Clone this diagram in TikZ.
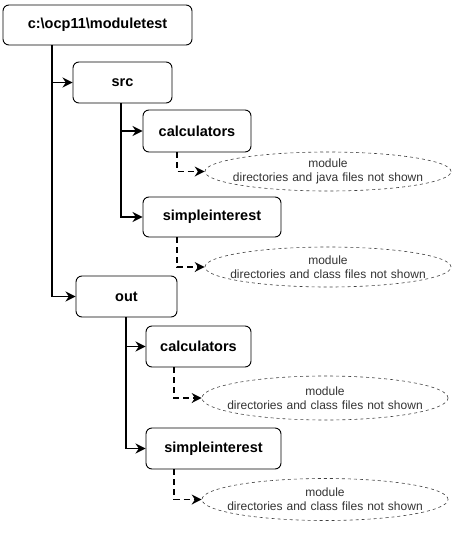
\documentclass[tikz,border=0pt]{standalone}
\usepackage{fontspec}
\setmainfont{Liberation Sans}
\usetikzlibrary{arrows.meta,shapes.geometric}
\begin{document}
\begin{tikzpicture}[x=1pt,y=-1pt,
  dirbox/.style={draw=black,line width=0.9pt,rounded corners=6pt,fill=white,inner sep=0pt,
    font=\fontsize{14.5}{16}\selectfont\bfseries},
  note/.style={ellipse,draw=black!75,dashed,line width=0.6pt,inner xsep=-23pt,inner ysep=0pt,
    text width=220pt,minimum width=246pt,
    font=\fontsize{12}{14}\selectfont,text=black!80,align=center},
  tree/.style={line width=1.9pt,-{Stealth[length=10pt,width=10pt]}},
  dashlink/.style={line width=1.6pt,dash pattern=on 6pt off 4pt,-{Stealth[length=10pt,width=10pt]}}]
\useasboundingbox (0,0) rectangle (468,560);
\node[dirbox,minimum width=189pt,minimum height=40pt] (root) at (97.5,25) {c:\textbackslash ocp11\textbackslash moduletest};
\node[dirbox,minimum width=99pt,minimum height=41pt] (src) at (122.5,82.5) {src};
\node[dirbox,minimum width=108pt,minimum height=42pt] (calc1) at (197,131) {calculators};
\node[dirbox,minimum width=138pt,minimum height=40pt] (si1) at (212,217) {simpleinterest};
\node[dirbox,minimum width=101pt,minimum height=41pt] (out) at (126.5,296.5) {out};
\node[dirbox,minimum width=105pt,minimum height=41pt] (calc2) at (198.5,346.5) {calculators};
\node[dirbox,minimum width=135pt,minimum height=41pt] (si2) at (213.5,448.5) {simpleinterest};
\node[note,minimum height=39pt] (n1) at (328,171.5) {module\\directories and java files not shown};
\node[note,minimum height=40pt] (n2) at (328,267) {module\\directories and class files not shown};
\node[note,minimum width=244pt,minimum height=44pt] (n3) at (325,398) {module\\directories and class files not shown};
\node[note,minimum width=244pt,minimum height=42pt] (n4) at (325,499.5) {module\\directories and class files not shown};
\coordinate (r0) at (52,45);
\draw[tree] (r0) |- (src.west);
\draw[tree] (r0) |- (out.west);
\coordinate (s0) at (121,103);
\draw[tree] (s0) |- (calc1.west);
\draw[tree] (s0) |- (si1.west);
\coordinate (o0) at (126,317);
\draw[tree] (o0) |- (calc2.west);
\draw[tree] (o0) |- (si2.west);
\coordinate (c1b) at (177,152);
\coordinate (s1b) at (177,237);
\coordinate (c2b) at (174,367);
\coordinate (s2b) at (174,469);
\draw[dashlink] (c1b) |- (n1.west);
\draw[dashlink] (s1b) |- (n2.west);
\draw[dashlink] (c2b) |- (n3.west);
\draw[dashlink] (s2b) |- (n4.west);
\end{tikzpicture}
\end{document}
